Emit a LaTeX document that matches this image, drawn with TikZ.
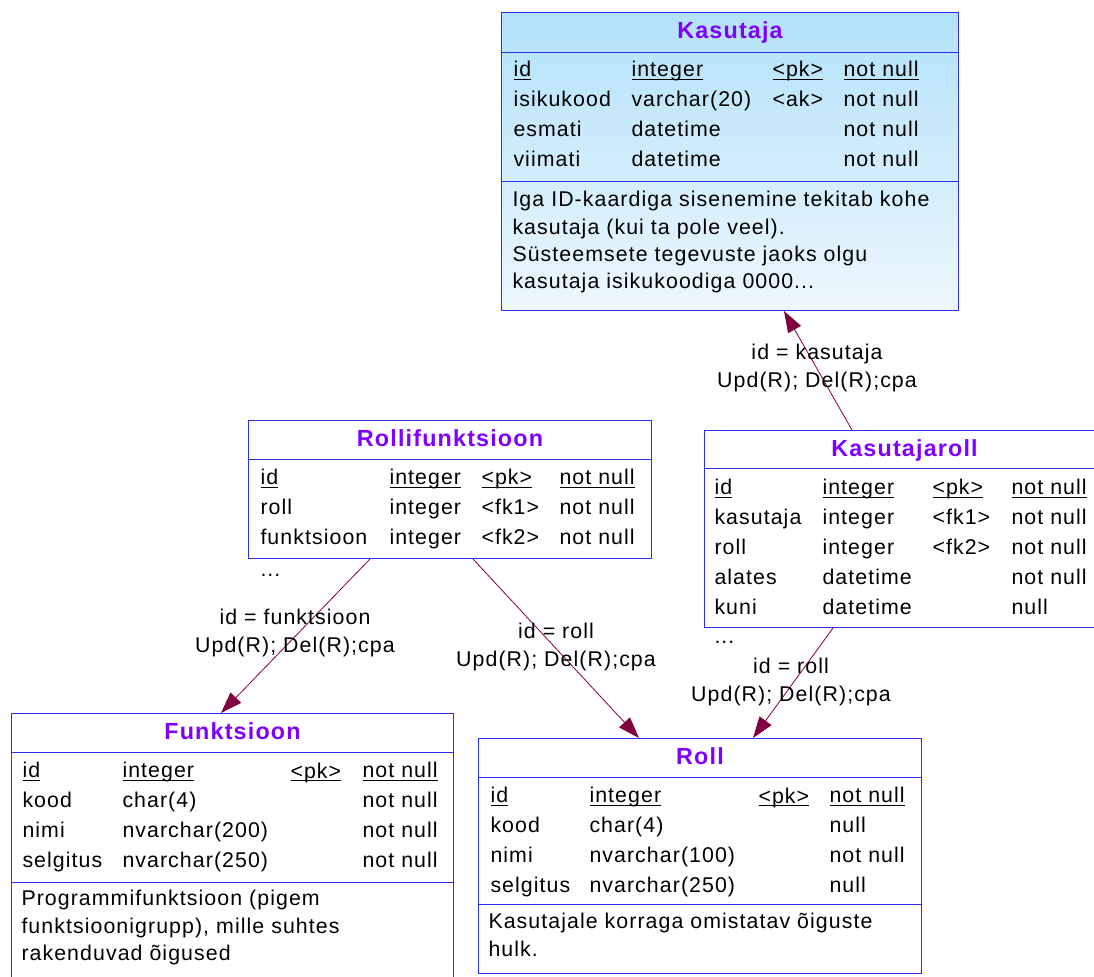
\documentclass[tikz,border=0pt]{standalone}
\usepackage{fontspec}
\setmainfont{Liberation Sans}[LetterSpace=5]
\usetikzlibrary{calc,arrows.meta}

\definecolor{tblblue}{RGB}{45,45,235}
\definecolor{ttlviolet}{RGB}{128,0,255}
\definecolor{fkred}{RGB}{128,0,64}
\definecolor{skytop}{RGB}{178,226,250}
\definecolor{skybot}{RGB}{238,247,253}

% underlined key column text
\newcommand\pkul[1]{\setbox0\hbox{#1}\rlap{\rule[-2pt]{\wd0}{0.6pt}}\box0}

\tikzset{every picture/.style={line width=0.75pt}}
\tikzset{
  tbl/.style 2 args={draw=tblblue, anchor=north west, inner sep=0pt,
    minimum width=#1*0.75pt, minimum height=#2*0.75pt},
  ttl/.style={font=\fontsize{17.5}{21}\selectfont\bfseries, text=ttlviolet, anchor=base, inner sep=0pt},
  % first line top is 12pt above its baseline
  col/.style={font=\fontsize{16}{22.5}\selectfont, anchor=north west, align=left, inner sep=0pt,
    execute at begin node={\rule{0pt}{12pt}}},
  note/.style={font=\fontsize{16}{20.4}\selectfont, anchor=north west, align=left, inner sep=0pt,
    execute at begin node={\rule{0pt}{12pt}}},
  rel/.style={font=\fontsize{16}{20.4}\selectfont, anchor=north, align=center, inner sep=0pt,
    execute at begin node={\rule{0pt}{12pt}}},
  fk/.style={draw=fkred, line width=0.6pt, -{Triangle[length=16pt,width=11pt]}}
}

\begin{document}
\begin{tikzpicture}[x=0.75pt,y=0.75pt,yscale=-1,xscale=1]
\useasboundingbox (0,0) rectangle (1094,976);

%Table: Kasutaja
\node [tbl={457}{298}, top color=skytop, bottom color=skybot] (kasutaja) at (501,12) {};
\draw [tblblue] ($(kasutaja.north west)+(0,40)$) -- ($(kasutaja.north east)+(0,40)$) ;
\draw [tblblue] ($(kasutaja.north west)+(0,169)$) -- ($(kasutaja.north east)+(0,169)$) ;
\node [ttl] (kas-title) at ($(kasutaja.north)+(0,26)$) {Kasutaja};
% Text Node
\node [col] (kas-names) at (513,61) {\pkul{id}\\isikukood\\esmati\\viimati};
\node [col] (kas-types) at (631,61) {\pkul{integer}\\varchar(20)\\datetime\\datetime};
\node [col] (kas-keys) at (772,61) {\pkul{<pk>}\\<ak>};
\node [col] (kas-nulls) at (843,61) {\pkul{not null}\\not null\\not null\\not null};
\node [note] (kas-note) at (512,191) {Iga ID-kaardiga sisenemine tekitab kohe\\kasutaja (kui ta pole veel).\\Süsteemsete tegevuste jaoks olgu\\kasutaja isikukoodiga 0000...};

%Table: Rollifunktsioon
\node [tbl={403}{138}, fill=white] (rollifunktsioon) at (248,420) {};
\draw [tblblue] ($(rollifunktsioon.north west)+(0,39)$) -- ($(rollifunktsioon.north east)+(0,39)$) ;
\node [ttl] (rf-title) at ($(rollifunktsioon.north)+(0,26)$) {Rollifunktsioon};
% Text Node
\node [col] (rf-names) at (260,469) {\pkul{id}\\roll\\funktsioon};
\node [col] (rf-types) at (389,469) {\pkul{integer}\\integer\\integer};
\node [col] (rf-keys) at (481,469) {\pkul{<pk>}\\<fk1>\\<fk2>};
\node [col] (rf-nulls) at (559,469) {\pkul{not null}\\not null\\not null};
\node [col] (rf-more) at (260,560) {...};

%Table: Kasutajaroll
\node [tbl={400}{197}, fill=white] (kasutajaroll) at (704,430) {};
\draw [tblblue] ($(kasutajaroll.north west)+(0,38)$) -- ($(kasutajaroll.north east)+(0,38)$) ;
\node [ttl] (kr-title) at ($(kasutajaroll.north)+(0,26)$) {Kasutajaroll};
% Text Node
\node [col] (kr-names) at (714,479) {\pkul{id}\\kasutaja\\roll\\alates\\kuni};
\node [col] (kr-types) at (822,479) {\pkul{integer}\\integer\\integer\\datetime\\datetime};
\node [col] (kr-keys) at (932,479) {\pkul{<pk>}\\<fk1>\\<fk2>};
\node [col] (kr-nulls) at (1011,479) {\pkul{not null}\\not null\\not null\\not null\\null};
\node [col] (kr-more) at (714,627) {...};

%Table: Funktsioon
\node [tbl={442}{280}, fill=white] (funktsioon) at (11,713) {};
\draw [tblblue] ($(funktsioon.north west)+(0,39)$) -- ($(funktsioon.north east)+(0,39)$) ;
\draw [tblblue] ($(funktsioon.north west)+(0,169)$) -- ($(funktsioon.north east)+(0,169)$) ;
\node [ttl] (fn-title) at ($(funktsioon.north)+(0,26)$) {Funktsioon};
% Text Node
\node [col] (fn-names) at (22,762) {\pkul{id}\\kood\\nimi\\selgitus};
\node [col] (fn-types) at (122,762) {\pkul{integer}\\char(4)\\nvarchar(200)\\nvarchar(250)};
\node [col] (fn-keys) at (290,762) {\pkul{<pk>}};
\node [col] (fn-nulls) at (362,762) {\pkul{not null}\\not null\\not null\\not null};
\node [note] (fn-note) at (21,890) {Programmifunktsioon (pigem\\funktsioonigrupp), mille suhtes\\rakenduvad õigused};

%Table: Roll
\node [tbl={443}{235}, fill=white] (roll) at (478,738) {};
\draw [tblblue] ($(roll.north west)+(0,39)$) -- ($(roll.north east)+(0,39)$) ;
\draw [tblblue] ($(roll.north west)+(0,166)$) -- ($(roll.north east)+(0,166)$) ;
\node [ttl] (roll-title) at ($(roll.north)+(0,26)$) {Roll};
% Text Node
\node [col] (roll-names) at (490,787) {\pkul{id}\\kood\\nimi\\selgitus};
\node [col] (roll-types) at (589,787) {\pkul{integer}\\char(4)\\nvarchar(100)\\nvarchar(250)};
\node [col] (roll-keys) at (758,787) {\pkul{<pk>}};
\node [col] (roll-nulls) at (829,787) {\pkul{not null}\\null\\not null\\null};
\node [note] (roll-note) at (488,913) {Kasutajale korraga omistatav õiguste\\hulk.};

%References
\draw [fk] ($(kasutajaroll.north west)+(148,0)$) -- ($(kasutaja.south west)+(283,0)$) ;
\draw [fk] ($(kasutajaroll.south west)+(129,0)$) -- ($(roll.north west)+(275,0)$) ;
\draw [fk] ($(rollifunktsioon.south west)+(225,0)$) -- ($(roll.north west)+(161,0)$) ;
\draw [fk] ($(rollifunktsioon.south west)+(122,0)$) -- ($(funktsioon.north west)+(210,0)$) ;

% Text Node
\node [rel] (ref-kasutaja) at (817,344) {id = kasutaja\\Upd(R); Del(R);cpa};
\node [rel] (ref-kr-roll) at (791,658) {id = roll\\Upd(R); Del(R);cpa};
\node [rel] (ref-rf-roll) at (556,623) {id = roll\\Upd(R); Del(R);cpa};
\node [rel] (ref-funktsioon) at (295,609) {id = funktsioon\\Upd(R); Del(R);cpa};

\end{tikzpicture}
\end{document}
